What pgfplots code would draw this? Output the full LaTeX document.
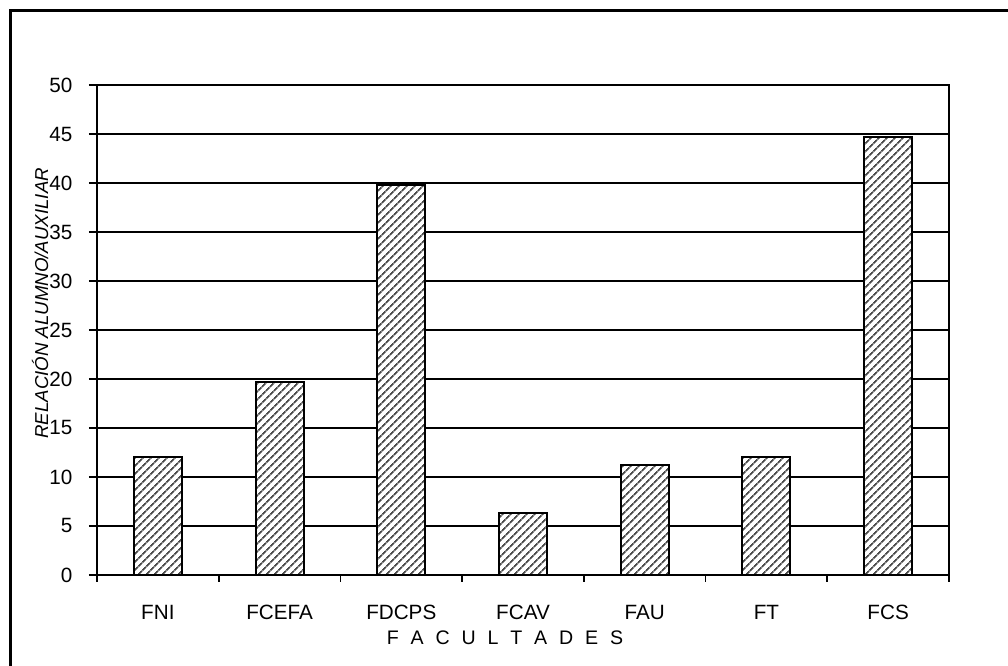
\documentclass[border=0pt]{standalone}
\usepackage{pgfplots}
\pgfplotsset{compat=1.18}
\usetikzlibrary{patterns.meta}
\usepackage{fontspec}
\setmainfont{Liberation Sans}
\begin{document}
\begin{tikzpicture}
\useasboundingbox (0,0) rectangle (756pt,499.5pt);
\draw[line width=2.3pt] (7.9pt,-20pt) -- (7.9pt,491.6pt) -- (780pt,491.6pt);
\begin{axis}[
  at={(72.75pt,68.25pt)}, anchor=south west,
  scale only axis, width=639pt, height=367.5pt,
  xmin=-0.5, xmax=6.5, ymin=0, ymax=50,
  ytick={0,5,...,50},
  xtick={0,...,6},
  xticklabels={FNI,FCEFA,FDCPS,FCAV,FAU,FT,FCS},
  minor xtick={-0.5,0.5,...,6.5},
  xtick pos=bottom, ytick pos=left,
  tick align=outside,
  major tick length=6pt, minor tick length=5pt,
  x tick style={draw=none},
  minor x tick style={draw=black, line width=1.2pt},
  y tick style={black, line width=1.2pt},
  ymajorgrids, major grid style={black, line width=1.2pt},
  axis line style={black, line width=1.5pt},
  tick label style={font=\fontsize{15.5}{17}\selectfont},
  /pgf/number format/assume math mode=true,
  xticklabel style={yshift=-13pt},
  yticklabel style={xshift=-9pt},
  ybar, bar width=36pt,
]
\addplot[draw=black, line width=1.4pt, fill=white,
  postaction={pattern={Lines[angle=45,distance=4pt,line width=1.4pt]}, pattern color=black!70}]
  coordinates {(0,12.0) (1,19.7) (2,39.8) (3,6.3) (4,11.2) (5,12.0) (6,44.65)};
\end{axis}
\node[rotate=90, font=\fontsize{14}{16}\selectfont\itshape] at (30pt,272pt) {RELACIÓN ALUMNO/AUXILIAR};
\node[font=\fontsize{14.7}{16}\selectfont, anchor=base] at (378.75pt,16pt) {F\hspace{8.9pt}A\hspace{8.9pt}C\hspace{8.9pt}U\hspace{8.9pt}L\hspace{8.9pt}T\hspace{8.9pt}A\hspace{8.9pt}D\hspace{8.9pt}E\hspace{8.9pt}S};
\end{tikzpicture}
\end{document}
